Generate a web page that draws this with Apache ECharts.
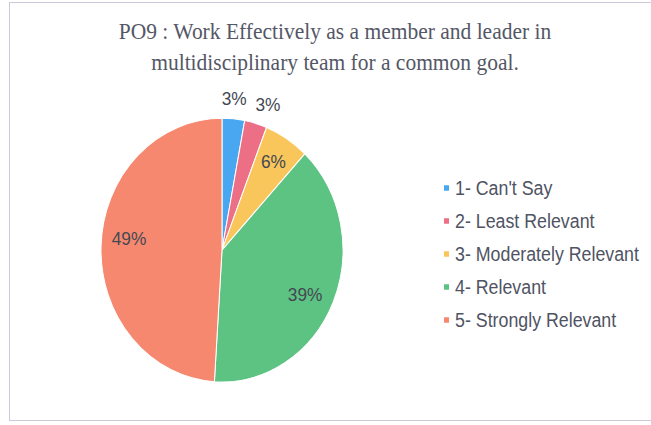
<!DOCTYPE html>
<html>
<head>
<meta charset="utf-8">
<script src="https://cdn.jsdelivr.net/npm/echarts@6/dist/echarts.min.js"></script>
<style>
  html, body { margin: 0; padding: 0; background: #fff; overflow: hidden; }
  #wrap { position: relative; width: 651px; height: 425px; overflow: hidden; }
  /* card outline; its right edge runs past the window */
  #frame { position: absolute; left: 9px; top: 2px; width: 700px; height: 419px;
           border: 1.5px solid #c9cbdb; box-sizing: border-box; }
  /* the chart is laid out slightly squat and stretched vertically */
  #chart { position: absolute; left: 0; top: 0; width: 651px; height: 390px;
           transform: scaleY(1.0897); transform-origin: 0 0; }
</style>
</head>
<body>
<div id="wrap">
  <div id="frame"></div>
  <div id="chart"></div>
</div>
<script>
// Survey result for PO9
const titleLines = [
  'PO9 : Work Effectively as a member and leader in',
  'multidisciplinary team for a common goal.'
];
const categories = [
  "1- Can't Say",
  '2- Least Relevant',
  '3- Moderately Relevant',
  '4- Relevant',
  '5- Strongly Relevant'
];
const shares = [3, 3, 6, 39, 49];

// slice colours, in category order
const palette = ['#48a7f0', '#ec6f86', '#f9c65c', '#5cc383', '#f6886f'];
// which slices carry their label just beyond the rim
const labelOutside = [true, true, false, false, false];
// small per-label nudges (px) for the best-fit look
const labelNudge = [[-1, 0], [7, 1], [0, 0], [-5, 3], [3, -7]];

const CX = 222, CY = 229.5, R = 121;
const labelFont = { fontFamily: 'Liberation Sans, Arial, sans-serif', fontSize: 17.3, color: '#454852' };

const pieData = categories.map((name, i) => ({ name, value: shares[i], itemStyle: { color: palette[i] } }));

// transparent ring used only to place a label set at a given radius
function labelRing(radius, showFor) {
  return {
    type: 'pie',
    center: [CX, CY],
    radius: radius,
    startAngle: 90,
    clockwise: true,
    silent: true,
    avoidLabelOverlap: false,
    emphasis: { disabled: true },
    tooltip: { show: false },
    itemStyle: { color: 'rgba(0,0,0,0)', borderWidth: 0 },
    labelLine: { show: false },
    data: categories.map((name, i) => ({
      name,
      value: shares[i],
      label: {
        show: showFor(i),
        position: 'inside',
        offset: labelNudge[i],
        formatter: p => p.value + '%',
        ...labelFont
      }
    }))
  };
}

const chart = echarts.init(document.getElementById('chart'), null, { renderer: 'svg' });
chart.setOption({
  animation: false,
  title: {
    text: titleLines.join('\n'),
    left: 335,
    top: 14,
    padding: 0,
    textAlign: 'center',
    textStyle: {
      fontFamily: 'Liberation Serif, Times New Roman, serif',
      fontWeight: 'normal',
      fontSize: 21.5,
      lineHeight: 29,
      color: '#545766'
    }
  },
  legend: {
    orient: 'vertical',
    left: 442,
    top: 162.5,
    padding: 0,
    itemGap: 10.3,
    itemWidth: 7,
    itemHeight: 7,
    icon: 'rect',
    data: categories,
    textStyle: {
      fontFamily: 'Liberation Sans, Arial, sans-serif',
      fontSize: 17.8,
      lineHeight: 20,
      color: '#4f5363'
    }
  },
  series: [
    {
      type: 'pie',
      center: [CX, CY],
      radius: R,
      startAngle: 90,
      clockwise: true,
      label: { show: false },
      labelLine: { show: false },
      emphasis: { scale: false },
      itemStyle: { borderColor: '#fff', borderWidth: 1 },
      data: pieData
    },
    labelRing([65, R], i => !labelOutside[i]),
    labelRing([125, 148], i => labelOutside[i])
  ]
});
</script>
</body>
</html>
